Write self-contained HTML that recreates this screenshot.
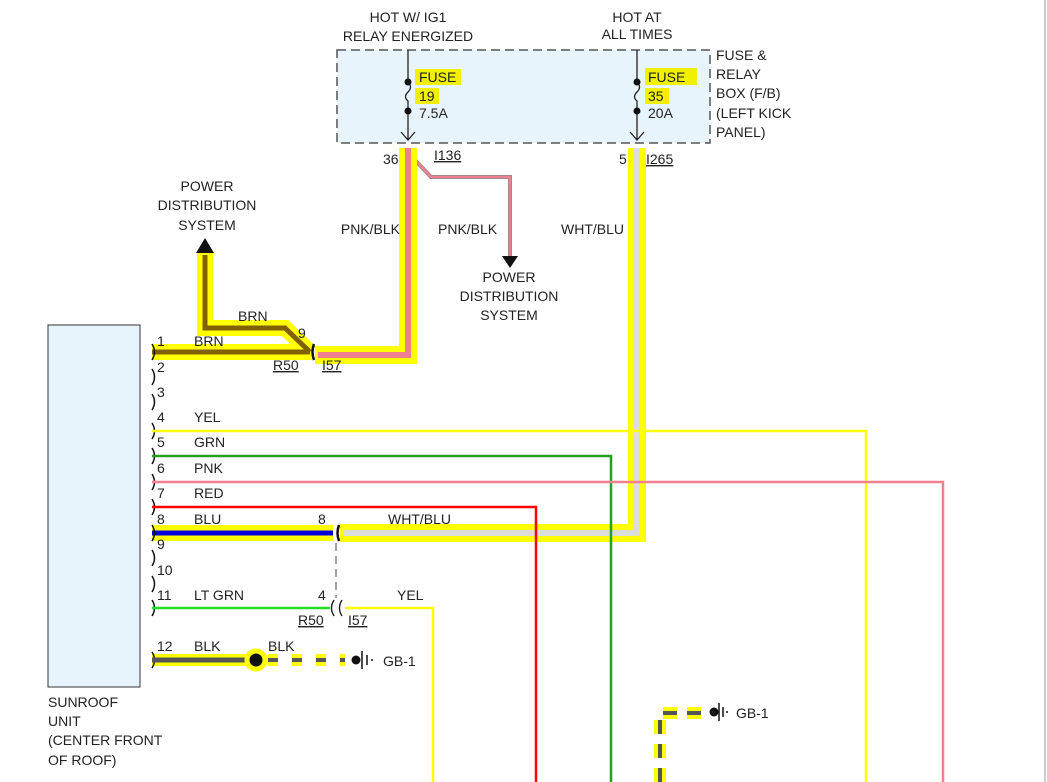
<!DOCTYPE html>
<html><head><style>body{margin:0;background:#fff}svg{display:block;font-family:"Liberation Sans",sans-serif}</style></head><body>
<svg width="1047" height="782" viewBox="0 0 1047 782" xmlns="http://www.w3.org/2000/svg">
<rect x="0" y="0" width="1047" height="782" fill="#fff"/>
<line x1="1045" y1="0" x2="1045" y2="782" stroke="#ccc" stroke-width="2"/>
<g font-size="14" fill="#222">
<text x="408" y="22" text-anchor="middle">HOT W/ IG1</text>
<text x="408" y="41" text-anchor="middle">RELAY ENERGIZED</text>
<text x="637" y="22" text-anchor="middle">HOT AT</text>
<text x="637" y="39" text-anchor="middle">ALL TIMES</text>
</g>
<rect x="337" y="50" width="373" height="93" fill="#e8f4fc" stroke="#555" stroke-width="1.5" stroke-dasharray="9,5"/>
<g font-size="14" fill="#222">
<text x="716" y="60">FUSE &amp;</text><text x="716" y="79">RELAY</text><text x="716" y="98">BOX (F/B)</text><text x="716" y="118">(LEFT KICK</text><text x="716" y="137">PANEL)</text>
</g>
<g fill="#f0f000">
<rect x="415" y="69" width="46" height="16"/><rect x="415" y="88" width="24" height="16"/>
<rect x="645" y="68" width="52" height="17"/><rect x="645" y="88" width="24" height="16"/>
</g>
<g stroke="#222" stroke-width="1.3" fill="none">
<path d="M408 50 V82 M408 82 q5 5 0 10 q-5 5 0 9 V140 M401 132 L408 140 L415 132"/>
<path d="M637 50 V82 M637 82 q5 5 0 10 q-5 5 0 9 V140 M630 132 L637 140 L644 132"/>
</g>
<g fill="#111"><circle cx="408" cy="82" r="3.5"/><circle cx="408" cy="111" r="3.5"/><circle cx="637" cy="82" r="3.5"/><circle cx="637" cy="111" r="3.5"/></g>
<g font-size="14" fill="#222">
<text x="419" y="82">FUSE</text><text x="419" y="101">19</text><text x="419" y="118">7.5A</text>
<text x="648" y="82">FUSE</text><text x="648" y="101">35</text><text x="648" y="118">20A</text>
<text x="383" y="164">36</text><text x="434" y="160" text-decoration="underline">I136</text>
<text x="619" y="164">5</text><text x="646" y="164" text-decoration="underline">I265</text>
</g>
<path d="M415 160 L431 177 H510 V262" stroke="#888" stroke-width="4" fill="none"/>
<path d="M415 160 L431 177 H510 V262" stroke="#f08090" stroke-width="2.5" fill="none"/>
<path d="M502 256 L518 256 L510 268 Z" fill="#111"/>
<g stroke="#ffff00" fill="none" stroke-linejoin="miter">
<path d="M408 148 V355 H315" stroke-width="18"/>
<path d="M637 148 V533 H340" stroke-width="18"/>
<path d="M152 352 H312" stroke-width="16"/>
<path d="M205 252 V328 H285 L310 352" stroke-width="16"/>
<path d="M152 533 H333" stroke-width="16"/>
<path d="M152 660 H250" stroke-width="12"/>
</g>
<path d="M408 148 V355 H318" stroke="#f08090" stroke-width="6" fill="none"/>
<path d="M637 148 V533 H343" stroke="#ddd" stroke-width="6" fill="none"/>
<path d="M152 352 H310" stroke="#806000" stroke-width="5" fill="none"/>
<path d="M205 255 V328 H285 L310 352" stroke="#806000" stroke-width="5" fill="none"/>
<path d="M196 253 L205 238 L214 253 Z" fill="#111"/>
<path d="M152 533 H333" stroke="#0000dd" stroke-width="5"/>
<path d="M314 344 q-3 8 0 16" stroke="#111" stroke-width="2.5" fill="none"/>
<path d="M339 525 q-3 8 0 16" stroke="#111" stroke-width="2.5" fill="none"/>
<line x1="336" y1="543" x2="336" y2="598" stroke="#444" stroke-dasharray="8,5"/>
<g font-size="14" fill="#222">
<text x="400" y="234" text-anchor="end">PNK/BLK</text>
<text x="438" y="234">PNK/BLK</text>
<text x="561" y="234">WHT/BLU</text>
<text x="207" y="191" text-anchor="middle">POWER</text><text x="207" y="210" text-anchor="middle">DISTRIBUTION</text><text x="207" y="230" text-anchor="middle">SYSTEM</text>
<text x="509" y="282" text-anchor="middle">POWER</text><text x="509" y="301" text-anchor="middle">DISTRIBUTION</text><text x="509" y="320" text-anchor="middle">SYSTEM</text>
<text x="238" y="321">BRN</text><text x="298" y="338">9</text>
<text x="194" y="346">BRN</text>
<text x="273" y="370" text-decoration="underline">R50</text><text x="322" y="370" text-decoration="underline">I57</text>
</g>
<rect x="48" y="325" width="92" height="362" fill="#e8f4fc" stroke="#333" stroke-width="1"/>
<g font-size="14" fill="#222">
<text x="48" y="707">SUNROOF</text><text x="48" y="726">UNIT</text><text x="48" y="745">(CENTER FRONT</text><text x="48" y="765">OF ROOF)</text>
</g>
<g stroke="#111" stroke-width="1.5" fill="none">
<path d="M152 344 q5 8 0 16 M152 369 q5 8 0 16 M152 394 q5 8 0 16 M152 423 q5 8 0 16 M152 448 q5 8 0 16 M152 474 q5 8 0 16 M152 499 q5 8 0 16 M152 525 q5 8 0 16 M152 550 q5 8 0 16 M152 576 q5 8 0 16 M152 600 q5 8 0 16 M152 652 q5 8 0 16"/>
</g>
<g font-size="14" fill="#222">
<text x="157" y="346">1</text><text x="157" y="372">2</text><text x="157" y="397">3</text>
<text x="157" y="422">4</text><text x="194" y="422">YEL</text>
<text x="157" y="447">5</text><text x="194" y="447">GRN</text>
<text x="157" y="473">6</text><text x="194" y="473">PNK</text>
<text x="157" y="498">7</text><text x="194" y="498">RED</text>
<text x="157" y="524">8</text><text x="194" y="524">BLU</text><text x="318" y="524">8</text><text x="388" y="524">WHT/BLU</text>
<text x="157" y="549">9</text><text x="157" y="575">10</text>
<text x="157" y="600">11</text><text x="194" y="600">LT GRN</text><text x="318" y="600">4</text><text x="397" y="600">YEL</text>
<text x="298" y="625" text-decoration="underline">R50</text><text x="348" y="625" text-decoration="underline">I57</text>
<text x="157" y="651">12</text><text x="194" y="651">BLK</text><text x="268" y="651">BLK</text>
<text x="383" y="666">GB-1</text><text x="736" y="718">GB-1</text>
</g>
<g fill="none" stroke-width="2.5">
<path d="M152 431 H866 V782" stroke="#ffff00"/>
<path d="M152 456 H611 V782" stroke="#22a022"/>
<path d="M152 482 H943 V782" stroke="#f08090"/>
<path d="M152 507 H536 V782" stroke="#ff0000"/>
<path d="M152 608 H330" stroke="#22dd22"/>
<path d="M345 608 H433 V782" stroke="#ffff00"/>
</g>
<g stroke="#111" stroke-width="1.3" fill="none"><path d="M334 600 q-5 8 0 16 M342 600 q-5 8 0 16"/></g>
<path d="M152 660 H250" stroke="#555" stroke-width="5"/>
<circle cx="256" cy="660" r="9" fill="#111" stroke="#ffff00" stroke-width="5"/>
<path d="M268 660 H345" stroke="#ffff00" stroke-width="12" stroke-dasharray="10,14"/>
<path d="M268 660 H345" stroke="#555" stroke-width="4" stroke-dasharray="10,14"/>
<circle cx="356" cy="660" r="4.5" fill="#111"/>
<path d="M362 651 V669 M367 655 V665 M372 659 V661" stroke="#111" stroke-width="1.5"/>
<path d="M660 782 V713 H705" stroke="#ffff00" stroke-width="12" fill="none" stroke-dasharray="14,10"/>
<path d="M660 782 V713 H705" stroke="#555" stroke-width="4" fill="none" stroke-dasharray="14,10"/>
<circle cx="714" cy="712" r="4.5" fill="#111"/>
<path d="M719 703 V721 M723 707 V717 M727 711 V713" stroke="#111" stroke-width="1.5"/>
</svg>
</body></html>
